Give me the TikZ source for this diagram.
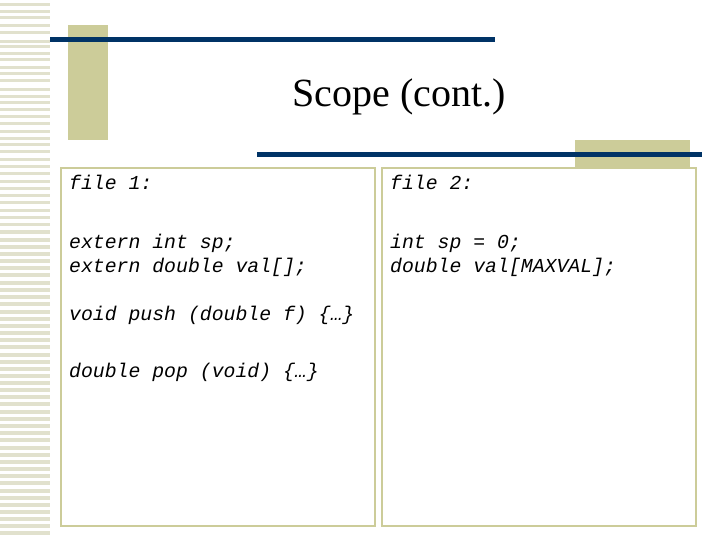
\documentclass[tikz,border=0pt]{standalone}
\usepackage{fontspec}
\setmainfont{Liberation Serif}
\setmonofont{Liberation Mono}
\definecolor{gold}{RGB}{204,204,153}
\definecolor{navy}{RGB}{0,51,102}
\definecolor{stripe}{RGB}{225,225,205}
\begin{document}
\begin{tikzpicture}[x=1pt,y=-1pt,
  code/.style={anchor=base west,font=\fontsize{19.8}{24}\selectfont\ttfamily\itshape,align=left,inner sep=0pt},
  panel/.style={draw=gold,line width=2.5pt}]
\useasboundingbox (0,0) rectangle (720,540);
\fill[white] (0,0) rectangle (720,540);
\foreach \y in {3,10,16,24,31,40,45,52,58,66,72,79,88,95,101,108,115,122,130,137,143,150,158,165,172,180,187,194,201,209,216,223,230,238,245,252,259,266,273,281,288,295,302,310,317,324,331,338,345,353,360,367,374,381,388,395,402,410,417,424,431,438,446,453,460,467,474,481,489,496,503,510,517,524,531}
  \fill[stripe] (0,\y) rectangle (50,\y+3.5);
\fill[gold] (68,25) rectangle (108,140);
\fill[navy] (50,37) rectangle (495,42);
\node[font=\fontsize{40}{44}\selectfont] (title) at (399,97) {Scope (cont.)};
\fill[gold] (575,140) rectangle (690,168);
\fill[navy] (257,152) rectangle (702,157);
\draw[panel] (61,168) rectangle (375,526);
\draw[panel] (382,168) rectangle (696,526);
\node[code] (f1) at (69,190) {file 1:};
\node[code] (d1) at (69,272) {extern int sp;\\extern double val[];};
\node[code] (p1) at (69,320) {void push (double f) \{…\}};
\node[code] (p2) at (69,377) {double pop (void) \{…\}};
\node[code] (f2) at (390,190) {file 2:};
\node[code] (d2) at (390,272) {int sp = 0;\\double val[MAXVAL];};
\end{tikzpicture}
\end{document}
